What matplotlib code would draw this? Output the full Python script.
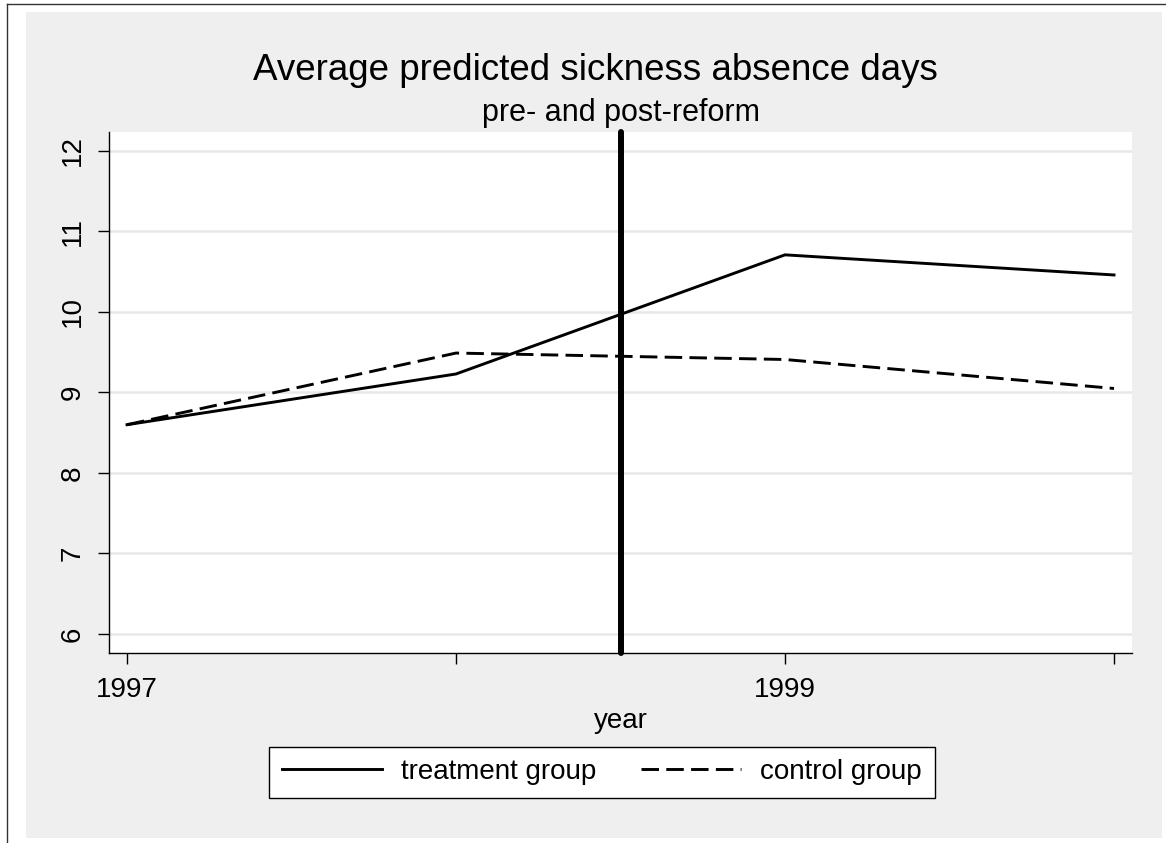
import matplotlib
matplotlib.use("Agg")
import matplotlib.pyplot as plt
from matplotlib.patches import Rectangle
from matplotlib.lines import Line2D

plt.rcParams['font.family'] = ['Liberation Sans', 'DejaVu Sans']

# data
years = [1997, 1998, 1999, 2000]
treatment = [8.60, 9.23, 10.71, 10.46]
control = [8.60, 9.49, 9.41, 9.05]
reform_year = 1998.5
y_ticks = [6, 7, 8, 9, 10, 11, 12]
x_ticks = [1997, 1998, 1999, 2000]
x_labels = ['1997', '', '1999', '']

W, H = 1166, 843
fig = plt.figure(figsize=(W / 100, H / 100), dpi=100)
fig.patch.set_facecolor('white')

# grey graph region and the outer frame lines of the screenshot
fig.patches.append(Rectangle((26 / W, 5 / H), (1162 - 26) / W, (838 - 12) / H,
                             transform=fig.transFigure, facecolor='#efefef',
                             edgecolor='none', zorder=-5))
fig.lines.append(Line2D([7 / W, 1], [1 - 4 / H, 1 - 4 / H], transform=fig.transFigure,
                        color='#333333', lw=1.0, zorder=-4))
fig.lines.append(Line2D([7 / W, 7 / W], [0, 1 - 4 / H], transform=fig.transFigure,
                        color='#333333', lw=1.0, zorder=-4))

ax = fig.add_axes([109 / W, 1 - 653 / H, (1132 - 109) / W, (653 - 132) / H])
ax.set_facecolor('white')

ax.plot(years, treatment, color='black', lw=2.1, label='treatment group', zorder=3)
ax.plot(years, control, color='black', lw=2.1, dashes=(6, 2.5), label='control group', zorder=3)
ax.axvline(reform_year, color='black', lw=4.3, solid_capstyle='round', clip_on=False, zorder=4)

ax.set_xlim(1997 - 18 / 329, 2000 + 18 / 329)
ax.set_ylim(6 - 19 / 80.5, 12 + 19 / 80.5)
ax.set_xticks(x_ticks)
ax.set_xticklabels(x_labels)
ax.set_yticks(y_ticks)
ax.set_yticklabels([str(t) for t in y_ticks], rotation=90, va='center')

ax.grid(axis='y', color='#e8e8e8', lw=1.8)
ax.set_axisbelow(True)
for side in ['top', 'right']:
    ax.spines[side].set_visible(False)
for side in ['left', 'bottom']:
    ax.spines[side].set_linewidth(1.0)
ax.tick_params(axis='both', length=8, width=1.0, labelsize=20, color='black')
ax.tick_params(axis='x', pad=9)
ax.tick_params(axis='y', pad=9)

ax.set_xlabel('year', fontsize=20, labelpad=4)

fig.text(595 / W, 1 - 70 / H, 'Average predicted sickness absence days',
         fontsize=26.5, ha='center', va='center')
fig.text(621 / W, 1 - 113 / H, 'pre- and post-reform',
         fontsize=22, ha='center', va='center')

leg = fig.legend(loc='center', bbox_to_anchor=(602 / W, 1 - 772 / H), ncol=2,
                 fontsize=20, frameon=True, fancybox=False, edgecolor='black',
                 framealpha=1, handlelength=3.6, handletextpad=0.7,
                 columnspacing=1.6, borderpad=0.45)
leg.get_frame().set_linewidth(1.0)

fig.savefig('out.png', dpi=100)
